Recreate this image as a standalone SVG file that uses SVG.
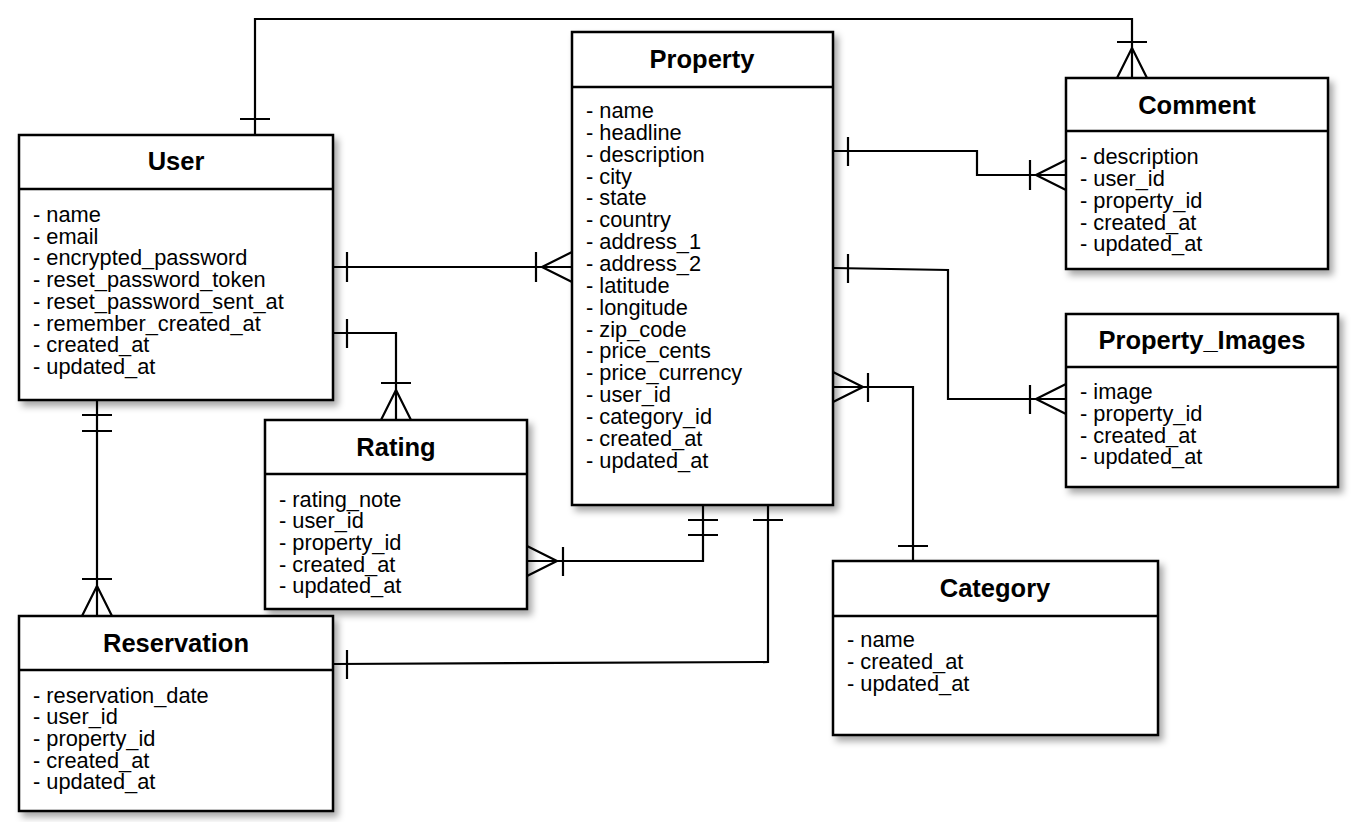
<svg xmlns="http://www.w3.org/2000/svg" width="1357" height="822" viewBox="0 0 1357 822">
<defs>
<filter id="sh" x="-10%" y="-10%" width="130%" height="130%">
<feDropShadow dx="4" dy="5" stdDeviation="3.5" flood-color="#000" flood-opacity="0.35"/>
</filter>
<style>
.box{fill:#fff;stroke:#000;stroke-width:2.5;filter:url(#sh)}
.hd{stroke:#000;stroke-width:2.5}
.t{font-family:"Liberation Sans",Arial,sans-serif;font-weight:bold;font-size:25.5px;fill:#000;text-anchor:middle}
.a{font-family:"Liberation Sans",Arial,sans-serif;font-size:21.8px;fill:#000}
.c{fill:none;stroke:#000;stroke-width:2.2}
</style>
</defs>
<rect width="1357" height="822" fill="#fff"/>

<g id="connectors">
<!-- User - Comment -->
<polyline class="c" points="255,135 255,19 1132,19 1132,78"/>
<path class="c" d="M240,119H270M1117,42H1147M1117,78L1132,48L1147,78"/>
<!-- User - Property -->
<polyline class="c" points="333,267 572,267"/>
<path class="c" d="M347,252V282M536,252V282M572,252L542,267L572,282"/>
<!-- User - Rating -->
<polyline class="c" points="333,333 396,333 396,420"/>
<path class="c" d="M347,319V348M381,383H411M381,420L396,390L411,420"/>
<!-- User - Reservation -->
<polyline class="c" points="97,400 97,616"/>
<path class="c" d="M82,415H112M82,431H112M82,579H112M82,616L97,586L112,616"/>
<!-- Property - Comment -->
<polyline class="c" points="833,151 977,151 977,175 1066,175"/>
<path class="c" d="M848,137V166M1030,160V190M1066,160L1036,175L1066,190"/>
<!-- Property - Property_Images -->
<polyline class="c" points="833,268 948,270 948,399 1066,399"/>
<path class="c" d="M848,254V283M1030,385V414M1066,384L1036,399L1066,414"/>
<!-- Property - Category -->
<polyline class="c" points="833,387 913,387 913,561"/>
<path class="c" d="M833,372L863,387L833,402M868,373V402M898,546H928"/>
<!-- Property - Rating -->
<polyline class="c" points="703,505 703,561 527,561"/>
<path class="c" d="M688,520H718M688,535H718M563,547V576M527,546L557,561L527,576"/>
<!-- Property - Reservation -->
<polyline class="c" points="768,505 768,662 333,664"/>
<path class="c" d="M753,520H783M347,650V679"/>
</g>

<g id="user">
<rect class="box" x="19" y="135" width="314" height="265"/>
<line class="hd" x1="19" y1="189" x2="333" y2="189"/>
<text class="t" x="176" y="170">User</text>
<text class="a" x="33" y="222">- name</text>
<text class="a" x="33" y="243.7">- email</text>
<text class="a" x="33" y="265.4">- encrypted_password</text>
<text class="a" x="33" y="287.1">- reset_password_token</text>
<text class="a" x="33" y="308.8">- reset_password_sent_at</text>
<text class="a" x="33" y="330.5">- remember_created_at</text>
<text class="a" x="33" y="352.2">- created_at</text>
<text class="a" x="33" y="373.9">- updated_at</text>
</g>

<g id="property">
<rect class="box" x="572" y="32" width="261" height="473"/>
<line class="hd" x1="572" y1="87" x2="833" y2="87"/>
<text class="t" x="702" y="68">Property</text>
<text class="a" x="586" y="118">- name</text>
<text class="a" x="586" y="139.85">- headline</text>
<text class="a" x="586" y="161.7">- description</text>
<text class="a" x="586" y="183.55">- city</text>
<text class="a" x="586" y="205.4">- state</text>
<text class="a" x="586" y="227.25">- country</text>
<text class="a" x="586" y="249.1">- address_1</text>
<text class="a" x="586" y="270.95">- address_2</text>
<text class="a" x="586" y="292.8">- latitude</text>
<text class="a" x="586" y="314.65">- longitude</text>
<text class="a" x="586" y="336.5">- zip_code</text>
<text class="a" x="586" y="358.35">- price_cents</text>
<text class="a" x="586" y="380.2">- price_currency</text>
<text class="a" x="586" y="402.05">- user_id</text>
<text class="a" x="586" y="423.9">- category_id</text>
<text class="a" x="586" y="445.75">- created_at</text>
<text class="a" x="586" y="467.6">- updated_at</text>
</g>

<g id="comment">
<rect class="box" x="1066" y="78" width="262" height="191"/>
<line class="hd" x1="1066" y1="131" x2="1328" y2="131"/>
<text class="t" x="1197" y="113.5">Comment</text>
<text class="a" x="1080" y="164.3">- description</text>
<text class="a" x="1080" y="186">- user_id</text>
<text class="a" x="1080" y="207.8">- property_id</text>
<text class="a" x="1080" y="229.5">- created_at</text>
<text class="a" x="1080" y="251.3">- updated_at</text>
</g>

<g id="property_images">
<rect class="box" x="1066" y="314" width="272" height="173"/>
<line class="hd" x1="1066" y1="367" x2="1338" y2="367"/>
<text class="t" x="1202" y="349">Property_Images</text>
<text class="a" x="1080" y="399">- image</text>
<text class="a" x="1080" y="420.7">- property_id</text>
<text class="a" x="1080" y="442.5">- created_at</text>
<text class="a" x="1080" y="464.2">- updated_at</text>
</g>

<g id="category">
<rect class="box" x="833" y="561" width="325" height="174"/>
<line class="hd" x1="833" y1="616" x2="1158" y2="616"/>
<text class="t" x="995" y="597">Category</text>
<text class="a" x="847" y="647.3">- name</text>
<text class="a" x="847" y="669">- created_at</text>
<text class="a" x="847" y="690.8">- updated_at</text>
</g>

<g id="rating">
<rect class="box" x="265" y="420" width="262" height="189"/>
<line class="hd" x1="265" y1="474" x2="527" y2="474"/>
<text class="t" x="396" y="455.5">Rating</text>
<text class="a" x="279" y="506.5">- rating_note</text>
<text class="a" x="279" y="528.2">- user_id</text>
<text class="a" x="279" y="549.8">- property_id</text>
<text class="a" x="279" y="571.5">- created_at</text>
<text class="a" x="279" y="593.1">- updated_at</text>
</g>

<g id="reservation">
<rect class="box" x="19" y="616" width="314" height="195"/>
<line class="hd" x1="19" y1="670" x2="333" y2="670"/>
<text class="t" x="176" y="651.5">Reservation</text>
<text class="a" x="33" y="702.5">- reservation_date</text>
<text class="a" x="33" y="724.2">- user_id</text>
<text class="a" x="33" y="745.8">- property_id</text>
<text class="a" x="33" y="767.5">- created_at</text>
<text class="a" x="33" y="789.1">- updated_at</text>
</g>
</svg>
